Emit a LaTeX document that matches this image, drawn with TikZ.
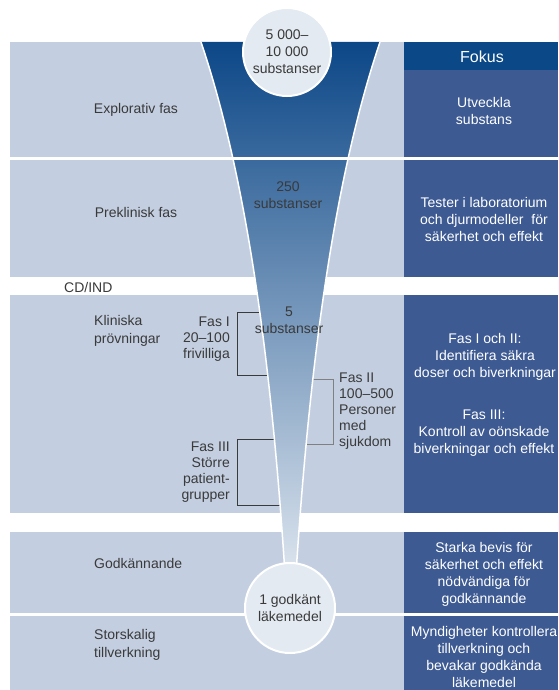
\documentclass[tikz,border=0pt]{standalone}
\usepackage{fontspec}
\setmainfont{Liberation Sans}
\usetikzlibrary{positioning}

\definecolor{bandBlue}{HTML}{C3CFE0}
\definecolor{panelBlue}{HTML}{3D5A93}
\definecolor{headBlue}{HTML}{0B4887}
\definecolor{funnelTop}{HTML}{0C4787}
\definecolor{funnelMid}{HTML}{8D9EC6}
\definecolor{funnelBottom}{HTML}{E2E9F1}
\definecolor{bubbleFill}{HTML}{E3EAF1}
\definecolor{textGray}{HTML}{3A3A3A}

\def \sepTop {157}
\def \sepBot {613}

\tikzset{
  phase/.style={text=textGray, align=left, inner sep=0pt, font=\fontsize{14}{17.5}\selectfont},
  focus/.style={text=white, align=center, inner sep=0pt, font=\fontsize{14}{17}\selectfont},
  count/.style={text=textGray, align=center, inner sep=0pt, font=\fontsize{14}{17}\selectfont},
  trial/.style={text=textGray, inner sep=0pt, font=\fontsize{14}{16}\selectfont},
  bubble/.style={circle, draw=white, line width=2pt, fill=bubbleFill, text=textGray,
    align=center, inner sep=0pt, font=\fontsize{14}{17}\selectfont},
  bracket/.style={line width=0.9pt}
}

\begin{document}
\begin{tikzpicture}[x=1pt,y=-1pt]
   \useasboundingbox (0,0) rectangle (558,690);

   % bands
   \fill[bandBlue] (10,42) rectangle (404,277);
   \fill[bandBlue] (10,295) rectangle (404,513);
   \fill[bandBlue] (10,532) rectangle (404,690);
   \fill[panelBlue] (404,42) rectangle (558,277);
   \fill[panelBlue] (404,295) rectangle (558,513);
   \fill[panelBlue] (404,532) rectangle (558,690);
   \fill[headBlue] (404,42) rectangle (558,70);

   % brackets, ends hidden below the funnel
   \coordinate (fasIa) at (272,312);
   \coordinate (fasIb) at (237,312);
   \coordinate (fasIc) at (237,375);
   \coordinate (fasId) at (276,375);
   \coordinate (fasIIa) at (304,379);
   \coordinate (fasIIb) at (333,379);
   \coordinate (fasIIc) at (333,444);
   \coordinate (fasIId) at (297,444);
   \coordinate (fasIIIa) at (283,439);
   \coordinate (fasIIIb) at (237,439);
   \coordinate (fasIIIc) at (237,505);
   \coordinate (fasIIId) at (287,505);
   \draw[bracket, textGray] (fasIa) -- (fasIb) -- (fasIc) -- (fasId);
   \draw[bracket, gray] (fasIIa) -- (fasIIb) -- (fasIIc) -- (fasIId);
   \draw[bracket, textGray] (fasIIIa) -- (fasIIIb) -- (fasIIIc) -- (fasIIId);

   % funnel
   \shade[top color=funnelTop, middle color=funnelMid, bottom color=funnelBottom]
      (201,42) .. controls (246,175) and (272,360) .. (286,590)
      -- (295,590) .. controls (309,360) and (335,175) .. (380,42) -- cycle;
   \draw[white, line width=1.5pt] (201,42) .. controls (246,175) and (272,360) .. (286,590);
   \draw[white, line width=1.5pt] (380,42) .. controls (335,175) and (309,360) .. (295,590);

   \fill[white] (10,\sepTop) rectangle (558,160);
   \fill[white] (10,\sepBot) rectangle (558,616);

   \node[bubble, minimum size=88pt] (start) at (287,52) {5 000--\\10 000\\substanser};
   \node[bubble, minimum size=90pt] (approved) at (290,608) {1 godkänt\\läkemedel};

   \node[count] (count250) at (288,195) {250\\substanser};
   \node[count] (count5) at (289,320) {5\\substanser};

   % phases
   \node[phase] (explorativ) at (136,110) {Explorativ fas};
   \node[phase] (preklinisk) at (136,212) {Preklinisk fas};
   \node[phase, anchor=west] (cdind) at (64,287) {CD/IND};
   \node[phase, anchor=west] (kliniska) at (94,331) {Kliniska\\prövningar};
   \node[phase, anchor=west] (godkannande) at (94,563) {Godkännande};
   \node[phase, anchor=west] (storskalig) at (94,645) {Storskalig\\tillverkning};

   \node[trial, align=right, anchor=east] (fasI) at (230,339) {Fas I\\20--100\\frivilliga};
   \node[trial, align=left, anchor=west] (fasII) at (339,411.5) {Fas II\\100--500\\Personer\\med\\sjukdom};
   \node[trial, align=right, anchor=east] (fasIII) at (230,472) {Fas III\\Större\\patient-\\grupper};

   % focus column
   \node[focus, font=\fontsize{16}{19}\selectfont] (fokus) at (482,57) {Fokus};
   \node[focus] (utveckla) at (484,110.5) {Utveckla\\substans};
   \node[focus] (tester) at (484,219.5) {Tester i laboratorium\\och djurmodeller \ för\\säkerhet och effekt};
   \node[focus] (fasIochII) at (485,357) {Fas I och II:\\Identifiera säkra\\doser och biverkningar};
   \node[focus] (fasIIIfokus) at (484,433.5) {Fas III:\\Kontroll av oönskade\\biverkningar och effekt};
   \node[focus] (bevis) at (484,574) {Starka bevis för\\säkerhet och effekt\\nödvändiga för\\godkännande};
   \node[focus] (myndigheter) at (484,656.5) {Myndigheter kontrollera\\tillverkning och\\bevakar godkända\\läkemedel};
\end{tikzpicture}
\end{document}
